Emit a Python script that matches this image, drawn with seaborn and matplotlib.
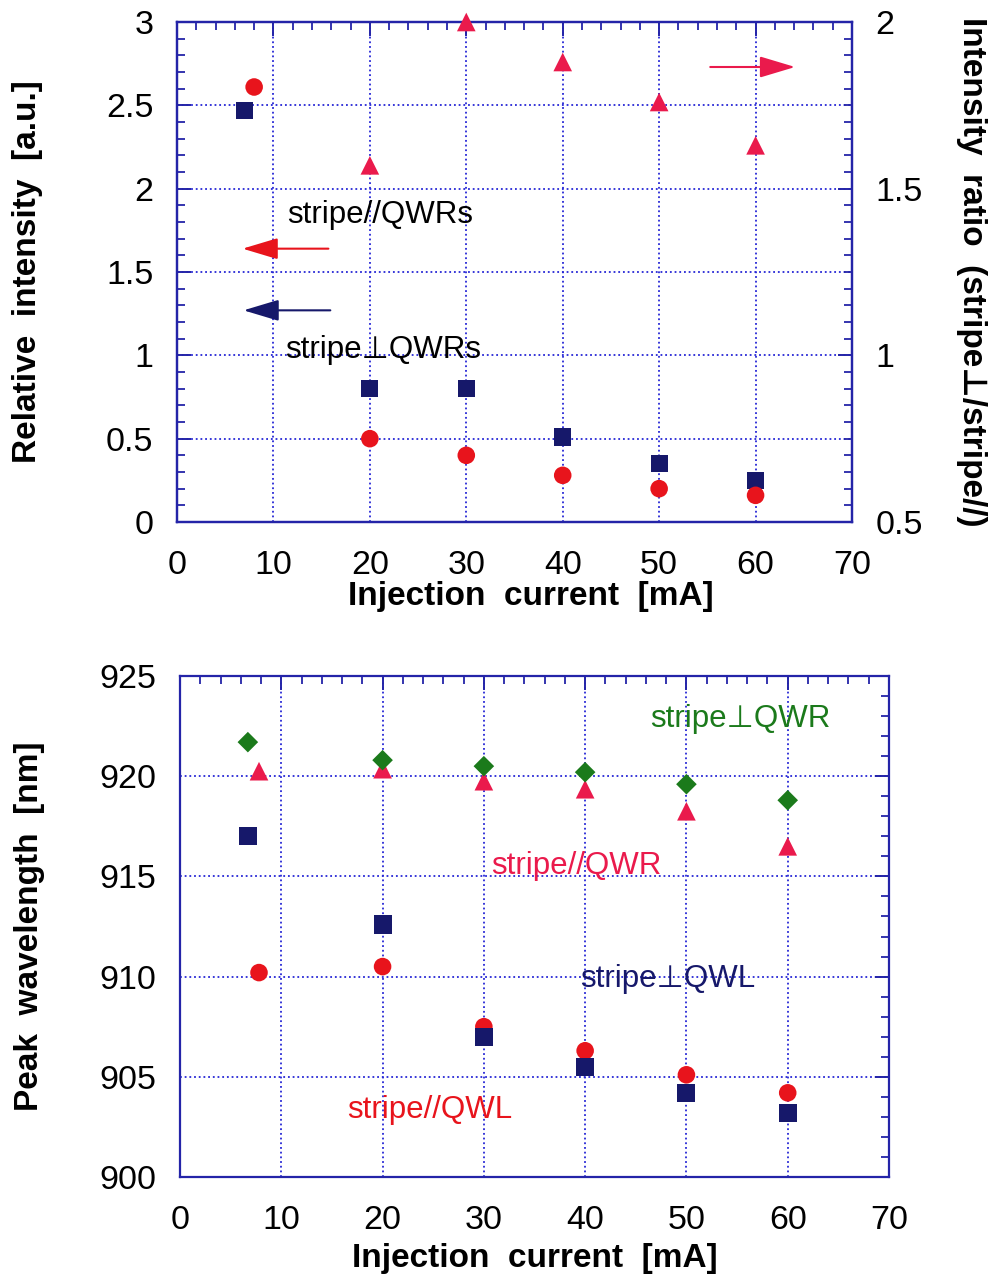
import numpy as np
import pandas as pd
import matplotlib
matplotlib.use("Agg")
import matplotlib.pyplot as plt
from matplotlib.ticker import MultipleLocator, FuncFormatter
import seaborn as sns

sns.set_theme(style="white")
plt.rcParams['font.family'] = ['Liberation Sans', 'DejaVu Sans']
plt.rcParams['text.color'] = 'black'
plt.rcParams['axes.labelcolor'] = 'black'

# ---- upper panel: relative intensity and intensity ratio ----
cur_perp = [7, 20, 30, 40, 50, 60]
int_perp = [2.47, 0.80, 0.80, 0.51, 0.35, 0.25]
cur_par = [8, 20, 30, 40, 50, 60]
int_par = [2.61, 0.50, 0.40, 0.28, 0.20, 0.16]
cur_ratio = [20, 30, 40, 50, 60]
ratio = [1.57, 2.00, 1.88, 1.76, 1.63]

# ---- lower panel: peak wavelength ----
cur_qwr_perp = [6.7, 20, 30, 40, 50, 60]
wl_qwr_perp = [921.7, 920.8, 920.5, 920.2, 919.6, 918.8]
cur_qwr_par = [7.8, 20, 30, 40, 50, 60]
wl_qwr_par = [920.25, 920.35, 919.75, 919.35, 918.25, 916.5]
cur_qwl_perp = [6.7, 20, 30, 40, 50, 60]
wl_qwl_perp = [917.0, 912.6, 907.0, 905.5, 904.2, 903.2]
cur_qwl_par = [7.8, 20, 30, 40, 50, 60]
wl_qwl_par = [910.2, 910.5, 907.5, 906.3, 905.1, 904.2]

NAVY = '#16186a'
RED = '#e8141c'
CRIMSON = '#ea1a4c'
GREEN = '#1b7a1b'
AXBLUE = '#2424a8'
GRIDBLUE = '#2626d6'

TICK_FS = 24.5
LABEL_FS = 24
NOTE_FS = 22.5

fig = plt.figure(figsize=(9.96, 12.75), dpi=100)
ax1 = fig.add_axes([177/996, 1-522/1275, (852-177)/996, 500/1275])
ax3 = fig.add_axes([180/996, 1-1177/1275, (889-180)/996, 501/1275])

fmt = FuncFormatter(lambda v, p: '%g' % v)


def style_axes(ax, right=True):
    for s in ax.spines.values():
        s.set_color(AXBLUE)
        s.set_linewidth(1.6)
    ax.tick_params(which='both', direction='in', colors=AXBLUE, labelcolor='black',
                   top=True, right=right, labelsize=TICK_FS)
    ax.tick_params(axis='x', which='both', pad=20)
    ax.tick_params(axis='y', which='both', pad=17)
    ax.tick_params(which='major', length=10, width=1.4)
    ax.tick_params(which='minor', length=6, width=1.3)
    ax.grid(True, which='major', color=GRIDBLUE, linestyle=(0, (1, 1.6)), linewidth=1.3)
    ax.set_axisbelow(True)
    ax.xaxis.set_major_formatter(fmt)
    ax.yaxis.set_major_formatter(fmt)


arrow_kw = dict(arrowstyle='-|>,head_length=1.1,head_width=0.33',
                mutation_scale=20, lw=1.5, shrinkA=0, shrinkB=0)

SQ, CI, TR, DI = 150, 160, 180, 110

# upper panel
sq1 = pd.DataFrame({'x': cur_perp, 'y': int_perp})
ci1 = pd.DataFrame({'x': cur_par, 'y': int_par})
tr1 = pd.DataFrame({'x': cur_ratio, 'y': ratio})

sns.scatterplot(data=sq1, x='x', y='y', ax=ax1, marker='s', s=SQ, color=NAVY,
                edgecolor='none', zorder=3, clip_on=False)
sns.scatterplot(data=ci1, x='x', y='y', ax=ax1, marker='o', s=CI, color=RED,
                edgecolor='none', zorder=3, clip_on=False)
ax1.set_xlim(0, 70)
ax1.set_ylim(0, 3)
ax1.xaxis.set_major_locator(MultipleLocator(10))
ax1.xaxis.set_minor_locator(MultipleLocator(2))
ax1.yaxis.set_major_locator(MultipleLocator(0.5))
ax1.yaxis.set_minor_locator(MultipleLocator(0.1))
style_axes(ax1, right=False)
ax1.set_xlabel('Injection  current  [mA]', fontsize=LABEL_FS, fontweight='bold')
ax1.xaxis.set_label_coords(0.524, -0.118)
ax1.set_ylabel('Relative  intensity  [a.u.]', fontsize=LABEL_FS, fontweight='bold')
ax1.yaxis.set_label_coords(-0.198, 0.5)

ax2 = ax1.twinx()
sns.scatterplot(data=tr1, x='x', y='y', ax=ax2, marker='^', s=TR, color=CRIMSON,
                edgecolor='none', zorder=3, clip_on=False)
ax2.set_ylim(0.5, 2)
ax2.yaxis.set_major_locator(MultipleLocator(0.5))
ax2.yaxis.set_minor_locator(MultipleLocator(0.05))
for s in ax2.spines.values():
    s.set_color(AXBLUE)
    s.set_linewidth(1.6)
ax2.tick_params(which='both', direction='in', colors=AXBLUE, labelcolor='black',
                labelsize=TICK_FS, pad=17)
ax2.tick_params(which='major', length=10, width=1.4)
ax2.tick_params(which='minor', length=6, width=1.3)
ax2.yaxis.set_major_formatter(fmt)
ax2.set_ylabel('Intensity  ratio  (stripe\u22a5/stripe//)', fontsize=LABEL_FS,
               fontweight='bold', rotation=-90)
ax2.yaxis.set_label_coords(1.2, 0.5)
ax2.grid(False)

ax1.text(11.4, 1.84, 'stripe//QWRs', fontsize=NOTE_FS, color='black', va='center', ha='left')
ax1.text(11.2, 1.03, 'stripe\u22a5QWRs', fontsize=NOTE_FS, color='black', va='center', ha='left')
ax1.annotate('', xy=(6.8, 1.64), xytext=(15.7, 1.64),
             arrowprops=dict(color=RED, **arrow_kw))
ax1.annotate('', xy=(6.9, 1.27), xytext=(15.9, 1.27),
             arrowprops=dict(color=NAVY, **arrow_kw))
ax1.annotate('', xy=(64.1, 2.73), xytext=(55.3, 2.73),
             arrowprops=dict(color=CRIMSON, **arrow_kw))

# lower panel
dm = pd.DataFrame({'x': cur_qwr_perp, 'y': wl_qwr_perp})
tr = pd.DataFrame({'x': cur_qwr_par, 'y': wl_qwr_par})
sq = pd.DataFrame({'x': cur_qwl_perp, 'y': wl_qwl_perp})
ci = pd.DataFrame({'x': cur_qwl_par, 'y': wl_qwl_par})

sns.scatterplot(data=tr, x='x', y='y', ax=ax3, marker='^', s=TR, color=CRIMSON,
                edgecolor='none', zorder=3)
sns.scatterplot(data=dm, x='x', y='y', ax=ax3, marker='D', s=DI, color=GREEN,
                edgecolor='none', zorder=4)
sns.scatterplot(data=ci, x='x', y='y', ax=ax3, marker='o', s=CI, color=RED,
                edgecolor='none', zorder=3)
sns.scatterplot(data=sq, x='x', y='y', ax=ax3, marker='s', s=SQ + 20, color=NAVY,
                edgecolor='none', zorder=4)
ax3.set_xlim(0, 70)
ax3.set_ylim(900, 925)
ax3.xaxis.set_major_locator(MultipleLocator(10))
ax3.xaxis.set_minor_locator(MultipleLocator(2))
ax3.yaxis.set_major_locator(MultipleLocator(5))
ax3.yaxis.set_minor_locator(MultipleLocator(1))
style_axes(ax3, right=True)
ax3.set_xlabel('Injection  current  [mA]', fontsize=LABEL_FS, fontweight='bold', labelpad=5)
ax3.set_ylabel('Peak  wavelength  [nm]', fontsize=LABEL_FS, fontweight='bold')
ax3.yaxis.set_label_coords(-0.19, 0.5)

ax3.text(46.4, 922.85, 'stripe\u22a5QWR', fontsize=NOTE_FS, color=GREEN, va='center', ha='left')
ax3.text(30.7, 915.5, 'stripe//QWR', fontsize=NOTE_FS, color=CRIMSON, va='center', ha='left')
ax3.text(39.5, 909.9, 'stripe\u22a5QWL', fontsize=NOTE_FS, color=NAVY, va='center', ha='left')
ax3.text(16.5, 903.35, 'stripe//QWL', fontsize=NOTE_FS, color=RED, va='center', ha='left')

for a in (ax1, ax2, ax3):
    leg = a.get_legend()
    if leg is not None:
        leg.remove()

fig.savefig('out.png', dpi=100)
